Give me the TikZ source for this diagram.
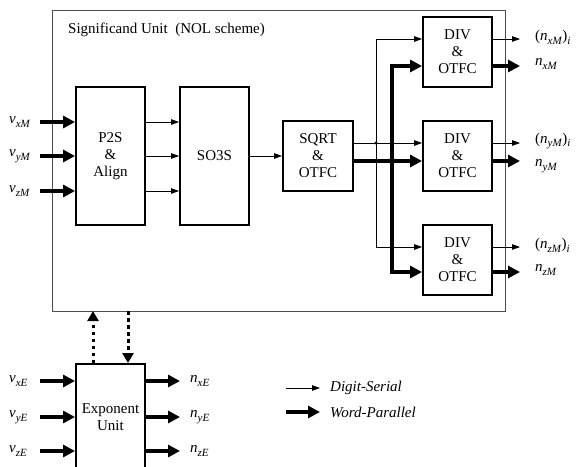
\documentclass[tikz,border=0pt]{standalone}
\usepackage{fontspec}
\setmainfont{Liberation Serif}
\usetikzlibrary{arrows.meta}
\newcommand{\subtxt}[1]{\raisebox{-0.55ex}{\fontsize{11}{12}\selectfont\textit{#1}}}
\newcommand{\varsub}[2]{\textit{#1}\subtxt{#2}}
\begin{document}
\begin{tikzpicture}[x=1pt,y=-1pt,
  font=\fontsize{15}{17}\selectfont,
  blk/.style={draw,line width=1.9pt,align=center,inner sep=0pt},
  ds/.style={line width=0.8pt,-{Triangle[length=8pt,width=5.5pt]}},
  dsline/.style={line width=0.8pt},
  wp/.style={line width=3.2pt,-{Triangle[length=12pt,width=12pt]}},
  wpline/.style={line width=3.2pt},
  dotarrow/.style={line width=3pt,dash pattern=on 3.5pt off 3.5pt,-{Triangle[length=10pt,width=11pt]}},
  lbl/.style={anchor=west,inner sep=0pt}]
\useasboundingbox (0,0) rectangle (577,466);
\clip (0,0) rectangle (577,466);
% outer box
\draw[line width=0.9pt,black!70] (52,10) rectangle (505,311);
\node[lbl] (title) at (68,30) {Significand Unit\ \ (NOL scheme)};
% blocks
\node[blk,minimum width=69pt,minimum height=138pt] (p2s) at (110.5,156) {P2S\\\&\\Align};
\node[blk,minimum width=69pt,minimum height=138pt] (so3s) at (214.5,156) {SO3S};
\node[blk,minimum width=70pt,minimum height=70pt] (sqrt) at (318,156) {SQRT\\\&\\OTFC};
\node[blk,minimum width=69pt,minimum height=70pt] (div1) at (457.5,52) {DIV\\\&\\OTFC};
\node[blk,minimum width=69pt,minimum height=70pt] (div2) at (457.5,156) {DIV\\\&\\OTFC};
\node[blk,minimum width=69pt,minimum height=70pt] (div3) at (457.5,260) {DIV\\\&\\OTFC};
\node[blk,minimum width=69pt,minimum height=120pt] (exp) at (110.5,424) {};
\node[align=center,inner sep=0pt] (exptxt) at (110.5,417) {Exponent\\Unit};
% inputs to P2S
\coordinate (ix) at (40,122);
\coordinate (iy) at (40,156);
\coordinate (iz) at (40,191);
\node[lbl] (vxM) at (9,122) {\varsub{v}{xM}};
\node[lbl] (vyM) at (9,156) {\varsub{v}{yM}};
\node[lbl] (vzM) at (9,191) {\varsub{v}{zM}};
\draw[wp] (ix) -- (ix -| p2s.west);
\draw[wp] (iy) -- (iy -| p2s.west);
\draw[wp] (iz) -- (iz -| p2s.west);
% P2S to SO3S
\draw[ds] (ix -| p2s.east) -- (ix -| so3s.west);
\draw[ds] (iy -| p2s.east) -- (iy -| so3s.west);
\draw[ds] (iz -| p2s.east) -- (iz -| so3s.west);
% SO3S to SQRT
\draw[ds] (so3s.east |- iy) -- (sqrt.west |- iy);
% SQRT to DIVs
\coordinate (a1) at (376,39);
\coordinate (a2) at (376,143);
\coordinate (a3) at (376,247);
\coordinate (b1) at (392,66);
\coordinate (b2) at (392,161);
\coordinate (b3) at (392,272);
\draw[dsline,{Triangle[length=8pt,width=5.5pt]}-{Triangle[length=8pt,width=5.5pt]}] (a1 -| div1.west) -- (a1) -- (a3) -- (a3 -| div3.west);
\draw[ds] (sqrt.east |- a2) -- (a2 -| div2.west);
\draw[wpline,{Triangle[length=12pt,width=12pt]}-{Triangle[length=12pt,width=12pt]}] (b1 -| div1.west) -- (b1) -- (b3) -- (b3 -| div3.west);
\draw[wp] (sqrt.east |- b2) -- (b2 -| div2.west);
\fill (a2) circle (1.6pt);
\fill (b2) circle (3.2pt);
% DIV outputs
\coordinate (o1) at (520,39);
\coordinate (p1) at (520,66);
\coordinate (o2) at (520,143);
\coordinate (p2) at (520,161);
\coordinate (o3) at (520,247);
\coordinate (p3) at (520,272);
\draw[ds] (div1.east |- o1) -- (o1);
\draw[wp] (div1.east |- p1) -- (p1);
\draw[ds] (div2.east |- o2) -- (o2);
\draw[wp] (div2.east |- p2) -- (p2);
\draw[ds] (div3.east |- o3) -- (o3);
\draw[wp] (div3.east |- p3) -- (p3);
\node[lbl] (nxMi) at (535,37) {(\varsub{n}{xM})\subtxt{i}};
\node[lbl] (nxM) at (535,64) {\varsub{n}{xM}};
\node[lbl] (nyMi) at (535,141) {(\varsub{n}{yM})\subtxt{i}};
\node[lbl] (nyM) at (535,166) {\varsub{n}{yM}};
\node[lbl] (nzMi) at (535,245) {(\varsub{n}{zM})\subtxt{i}};
\node[lbl] (nzM) at (535,270) {\varsub{n}{zM}};
% exponent dotted links
\coordinate (up) at (93,311);
\coordinate (dn) at (128,311);
\draw[dotarrow] (up |- exp.north) -- (up);
\draw[dotarrow] (dn) -- (dn |- exp.north);
% exponent inputs/outputs
\coordinate (ex) at (40,381);
\coordinate (ey) at (40,417);
\coordinate (ez) at (40,451);
\node[lbl] (vxE) at (9,381) {\varsub{v}{xE}};
\node[lbl] (vyE) at (9,417) {\varsub{v}{yE}};
\node[lbl] (vzE) at (9,451) {\varsub{v}{zE}};
\draw[wp] (ex) -- (ex -| exp.west);
\draw[wp] (ey) -- (ey -| exp.west);
\draw[wp] (ez) -- (ez -| exp.west);
\coordinate (fx) at (180,381);
\coordinate (fy) at (180,417);
\coordinate (fz) at (180,451);
\draw[wp] (exp.east |- fx) -- (fx);
\draw[wp] (exp.east |- fy) -- (fy);
\draw[wp] (exp.east |- fz) -- (fz);
\node[lbl] (nxE) at (190,381) {\varsub{n}{xE}};
\node[lbl] (nyE) at (190,417) {\varsub{n}{yE}};
\node[lbl] (nzE) at (190,451) {\varsub{n}{zE}};
% legend
\coordinate (l1a) at (286,388);
\coordinate (l1b) at (320,388);
\coordinate (l2a) at (286,412);
\coordinate (l2b) at (320,412);
\draw[ds] (l1a) -- (l1b);
\draw[wp] (l2a) -- (l2b);
\node[lbl] (ldg) at (330,388) {\textit{Digit-Serial}};
\node[lbl] (lwp) at (330,412) {\textit{Word-Parallel}};
\end{tikzpicture}
\end{document}
